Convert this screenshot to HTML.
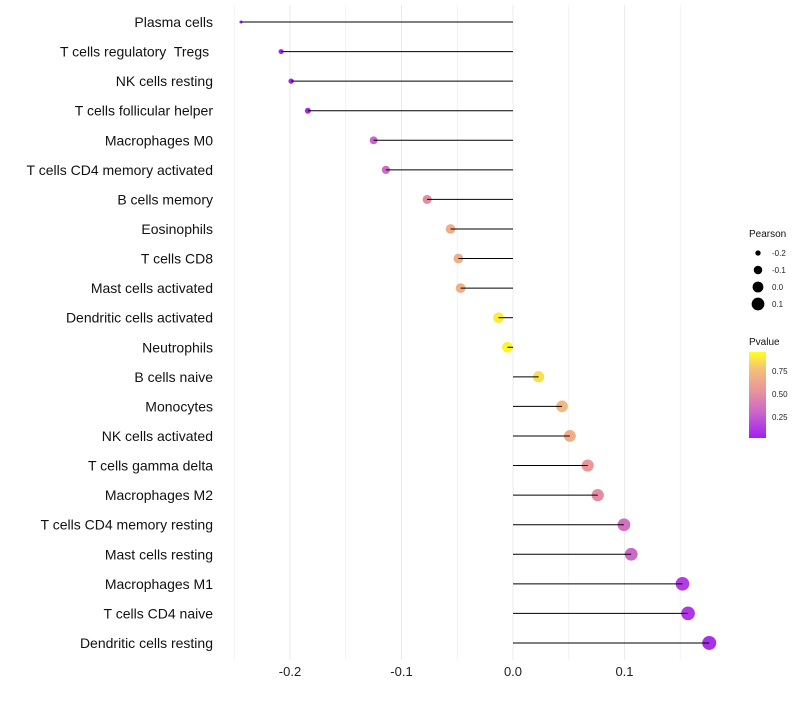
<!DOCTYPE html>
<html><head><meta charset="utf-8"><style>
body{margin:0;background:#fff;font-family:"Liberation Sans",sans-serif}
text{white-space:pre}
</style></head><body>
<svg id="c" width="800" height="700" xmlns="http://www.w3.org/2000/svg">
<defs><linearGradient id="pg" x1="0" y1="1" x2="0" y2="0">
<stop offset="0" stop-color="#A020F0"/><stop offset="0.3" stop-color="#CC66CC"/>
<stop offset="0.55" stop-color="#E8959A"/><stop offset="0.8" stop-color="#F4C07A"/><stop offset="1" stop-color="#FFFF20"/>
</linearGradient></defs>
<g id="grid"></g><g id="dots"></g><g id="marks"></g><g id="labels"></g><g id="legend"></g>
</svg>
<script>
const cells=["Plasma cells","T cells regulatory  Tregs ","NK cells resting","T cells follicular helper","Macrophages M0","T cells CD4 memory activated","B cells memory","Eosinophils","T cells CD8","Mast cells activated","Dendritic cells activated","Neutrophils","B cells naive","Monocytes","NK cells activated","T cells gamma delta","Macrophages M2","T cells CD4 memory resting","Mast cells resting","Macrophages M1","T cells CD4 naive","Dendritic cells resting"];
const pearson=[-0.244,-0.208,-0.199,-0.184,-0.125,-0.114,-0.077,-0.056,-0.049,-0.047,-0.013,-0.005,0.023,0.044,0.051,0.067,0.076,0.0995,0.106,0.152,0.157,0.176];
const pvalue=[0.02,0.04,0.04,0.05,0.3,0.33,0.5,0.68,0.7,0.7,0.92,0.95,0.88,0.75,0.68,0.56,0.5,0.36,0.32,0.14,0.12,0.08];
const xTicks=[-0.2,-0.1,0.0,0.1];
const xTickLabels=["-0.2","-0.1","0.0","0.1"];
const xMinor=[-0.25,-0.15,-0.05,0.05,0.15];
const legendVals=[-0.2,-0.1,0.0,0.1];
const ns="http://www.w3.org/2000/svg";
const X=v=>513+v*1115;
const Y=i=>22+i*29.57;
const R=v=>Math.sqrt(Math.max(0.5,2.25+(v+0.244)*111.3));
const stops=[[0,[160,32,240]],[0.3,[204,102,204]],[0.55,[232,149,154]],[0.8,[244,192,122]],[1,[255,255,32]]];
function col(p){const t=Math.min(1,Math.max(0,(p-0.02)/0.96));for(let k=1;k<stops.length;k++){if(t<=stops[k][0]){const a=stops[k-1],b=stops[k],f=(t-a[0])/(b[0]-a[0]);return`rgb(${a[1].map((c,j)=>Math.round(c+(b[1][j]-c)*f)).join(",")})`;}}return"rgb(255,255,32)";}
function mk(tag,at,par){const e=document.createElementNS(ns,tag);for(const k in at)e.setAttribute(k,at[k]);document.getElementById(par).appendChild(e);return e;}
xMinor.forEach(v=>{const l=mk("line",{x1:X(v),x2:X(v),y1:5,y2:660,stroke:"#f2f2f2","stroke-width":1},"grid");

});
xTicks.forEach((v,i)=>{const l=mk("line",{x1:X(v),x2:X(v),y1:5,y2:660,stroke:"#ebebeb","stroke-width":1},"grid");


const t=mk("text",{x:X(v),y:676,"text-anchor":"middle","font-size":13,fill:"#222"},"labels");t.textContent=xTickLabels[i];

});
cells.forEach((c,i)=>{const y=Y(i);
const d=mk("circle",{cx:X(pearson[i]),cy:y,r:R(pearson[i]),fill:col(pvalue[i])},"dots");


const l=mk("line",{x1:X(0),x2:X(pearson[i]),y1:y,y2:y,stroke:"#000","stroke-width":1},"marks");


const t=mk("text",{x:213,y:y+5,"text-anchor":"end","font-size":14,fill:"#111"},"labels");t.textContent=c;

});
let t=mk("text",{x:749,y:237,"font-size":10,fill:"#111"},"legend");t.textContent="Pearson";


legendVals.forEach((v,i)=>{const y=253+i*17;
const c=mk("circle",{cx:758,cy:y,r:R(v),fill:"#000"},"legend");


const tt=mk("text",{x:772,y:y+3,"font-size":8,fill:"#222"},"legend");tt.textContent=v.toFixed(1);

});
t=mk("text",{x:749,y:345,"font-size":10,fill:"#111"},"legend");t.textContent="Pvalue";


const bar=mk("rect",{x:749,y:352,width:17,height:86,fill:"url(#pg)"},"legend");


[[0.75,371],[0.5,394],[0.25,417]].forEach(([v,y])=>{const tt=mk("text",{x:772,y:y+3,"font-size":8,fill:"#222"},"legend");tt.textContent=v.toFixed(2);

});
</script>
</body></html>
